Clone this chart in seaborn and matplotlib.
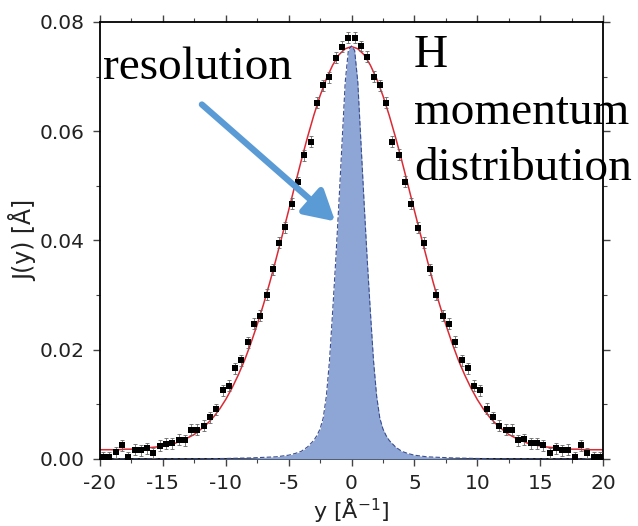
import matplotlib
matplotlib.use("Agg")
import matplotlib.pyplot as plt
import seaborn as sns
import pandas as pd
from matplotlib.ticker import MultipleLocator, FormatStrFormatter

# ---------------- data ----------------
y_data = [-19.75, -19.25, -18.75, -18.25, -17.75, -17.25, -16.75, -16.25, -15.75, -15.25,
          -14.75, -14.25, -13.75, -13.25, -12.75, -12.25, -11.75, -11.25, -10.75, -10.25,
          -9.75, -9.25, -8.75, -8.25, -7.75, -7.25, -6.75, -6.25, -5.75, -5.25,
          -4.75, -4.25, -3.75, -3.25, -2.75, -2.25, -1.75, -1.25, -0.75, -0.25,
          0.25, 0.75, 1.25, 1.75, 2.25, 2.75, 3.25, 3.75, 4.25, 4.75,
          5.25, 5.75, 6.25, 6.75, 7.25, 7.75, 8.25, 8.75, 9.25, 9.75,
          10.25, 10.75, 11.25, 11.75, 12.25, 12.75, 13.25, 13.75, 14.25, 14.75,
          15.25, 15.75, 16.25, 16.75, 17.25, 17.75, 18.25, 18.75, 19.25, 19.75]
J_data = [0.0003, 0.0003, 0.0012, 0.0025, 0.0003, 0.0017, 0.0016, 0.0020, 0.0011, 0.0024,
          0.0028, 0.0029, 0.0035, 0.0034, 0.0054, 0.0054, 0.0061, 0.0076, 0.0091, 0.0126,
          0.0134, 0.0166, 0.0181, 0.0214, 0.0248, 0.0262, 0.0301, 0.0347, 0.0396, 0.0424,
          0.0467, 0.0507, 0.0556, 0.0581, 0.0652, 0.0684, 0.0699, 0.0735, 0.0755, 0.0771,
          0.0771, 0.0756, 0.0736, 0.0700, 0.0684, 0.0652, 0.0581, 0.0557, 0.0508, 0.0467,
          0.0423, 0.0396, 0.0347, 0.0301, 0.0262, 0.0248, 0.0215, 0.0181, 0.0166, 0.0134,
          0.0126, 0.0092, 0.0076, 0.0061, 0.0054, 0.0054, 0.0034, 0.0036, 0.0029, 0.0029,
          0.0025, 0.0011, 0.0020, 0.0016, 0.0017, 0.0003, 0.0025, 0.0011, 0.0003, 0.0003]
J_err = 0.001

y_fit = [-20, -19.5, -19, -18.5, -18, -17.5, -17, -16.5, -16, -15.5, -15, -14.5, -14, -13.5,
         -13, -12.5, -12, -11.5, -11, -10.5, -10, -9.5, -9, -8.5, -8, -7.5, -7, -6.5, -6,
         -5.5, -5, -4.5, -4, -3.5, -3, -2.5, -2, -1.5, -1, -0.5, 0,
         0.5, 1, 1.5, 2, 2.5, 3, 3.5, 4, 4.5, 5, 5.5, 6, 6.5, 7, 7.5, 8, 8.5, 9, 9.5, 10,
         10.5, 11, 11.5, 12, 12.5, 13, 13.5, 14, 14.5, 15, 15.5, 16, 16.5, 17, 17.5, 18,
         18.5, 19, 19.5, 20]
J_fit = [0.0017, 0.0017, 0.0017, 0.0017, 0.0018, 0.0018, 0.0019, 0.0020, 0.0021, 0.0022,
         0.0024, 0.0026, 0.0029, 0.0034, 0.0039, 0.0045, 0.0054, 0.0064, 0.0076, 0.0091,
         0.0109, 0.0130, 0.0154, 0.0181, 0.0212, 0.0246, 0.0283, 0.0323, 0.0366, 0.0410,
         0.0455, 0.0501, 0.0546, 0.0589, 0.0629, 0.0665, 0.0696, 0.0721, 0.0740, 0.0751,
         0.0755,
         0.0751, 0.0740, 0.0721, 0.0696, 0.0665, 0.0629, 0.0589, 0.0546, 0.0501, 0.0455,
         0.0410, 0.0366, 0.0323, 0.0283, 0.0246, 0.0212, 0.0181, 0.0154, 0.0130, 0.0109,
         0.0091, 0.0076, 0.0064, 0.0054, 0.0045, 0.0039, 0.0034, 0.0029, 0.0026, 0.0024,
         0.0022, 0.0021, 0.0020, 0.0019, 0.0018, 0.0018, 0.0017, 0.0017, 0.0017, 0.0017]

y_res = [-20, -15, -12, -10, -8, -7, -6, -5, -4.5, -4, -3.5, -3, -2.75, -2.5, -2.25, -2,
         -1.75, -1.5, -1.25, -1, -0.75, -0.5, -0.25, 0, 0.25, 0.5, 0.75, 1, 1.25, 1.5,
         1.75, 2, 2.25, 2.5, 2.75, 3, 3.5, 4, 4.5, 5, 6, 7, 8, 10, 12, 15, 20]
J_res = [0.00002, 0.00003, 0.00005, 0.0001, 0.0002, 0.0003, 0.0004, 0.0007, 0.0010, 0.0014,
         0.0022, 0.0034, 0.0043, 0.0055, 0.0075, 0.0115, 0.0180, 0.0270, 0.0365, 0.0470,
         0.0580, 0.0690, 0.0748, 0.0756, 0.0748, 0.0690, 0.0580, 0.0470, 0.0365, 0.0270,
         0.0180, 0.0115, 0.0075, 0.0055, 0.0043, 0.0034, 0.0022, 0.0014, 0.0010, 0.0007,
         0.0004, 0.0003, 0.0002, 0.0001, 0.00005, 0.00003, 0.00002]

x_ticks = [-20, -15, -10, -5, 0, 5, 10, 15, 20]
y_ticks = [0.00, 0.02, 0.04, 0.06, 0.08]

# ---------------- figure ----------------
sns.set_theme(style="ticks")
plt.rcParams['font.family'] = ['DejaVu Sans']
plt.rcParams['axes.unicode_minus'] = False

fig = plt.figure(figsize=(6.38, 5.26), dpi=100)
ax = fig.add_axes([100 / 638, 67 / 526, 503 / 638, 437 / 526])

df_data = pd.DataFrame({"y": y_data, "J": J_data})
df_fit = pd.DataFrame({"y": y_fit, "J": J_fit})

# fit line
sns.lineplot(data=df_fit, x="y", y="J", color="#dc2a35", lw=1.1, ax=ax,
             estimator=None, sort=False, zorder=2)
# resolution
ax.fill_between(y_res, J_res, 0, color="#8ea6d6", lw=0, zorder=3)
ax.plot(y_res, J_res, color="#3a4d8f", lw=0.8, ls=(0, (4, 2)), zorder=3.5)
# data
ax.errorbar(y_data, J_data, yerr=J_err, fmt="none", ecolor="#666666",
            elinewidth=0.6, capsize=1.5, capthick=0.6, zorder=4)
sns.scatterplot(data=df_data, x="y", y="J", marker="s", s=20, color="black",
                edgecolor="black", linewidth=0, ax=ax, zorder=5)

ax.set_xlim(-20, 20)
ax.set_ylim(0, 0.08)
ax.set_xticks(x_ticks)
ax.set_yticks(y_ticks)
ax.xaxis.set_minor_locator(MultipleLocator(2.5))
ax.yaxis.set_minor_locator(MultipleLocator(0.01))
ax.yaxis.set_major_formatter(FormatStrFormatter("%.2f"))
ax.tick_params(which="both", direction="out", top=True, right=True,
               labelsize=14.5, labelcolor="#222222", color="#444444")
ax.tick_params(which="major", length=5, width=1)
ax.tick_params(which="minor", length=3, width=0.8)
ax.tick_params(axis="x", pad=6)
ax.tick_params(axis="y", pad=6)
for s in ax.spines.values():
    s.set_color("black")
    s.set_linewidth(1.3)

ax.set_xlabel("y [Å$^{-1}$]", fontsize=16, color="#222222", labelpad=2)
ax.set_ylabel("J(y) [Å]", fontsize=17, color="#222222", labelpad=2)

# arrow & annotations
ax.annotate("", xy=(-1.3, 0.0435), xytext=(-11.9, 0.0649),
            arrowprops=dict(arrowstyle="-|>,head_length=1.5,head_width=0.85",
                            color="#5b9bd5", lw=4.5, shrinkA=0, shrinkB=0),
            zorder=6)

serif = ["Liberation Serif", "DejaVu Serif"]
fig.text(103 / 638, 1 - 79 / 526, "resolution", fontsize=34, family=serif,
         ha="left", va="baseline", color="black")
fig.text(414 / 638, 1 - 67 / 526, "H", fontsize=34, family=serif,
         ha="left", va="baseline", color="black")
fig.text(414 / 638, 1 - 124 / 526, "momentum", fontsize=34, family=serif,
         ha="left", va="baseline", color="black")
fig.text(414 / 638, 1 - 180 / 526, "distribution", fontsize=34, family=serif,
         ha="left", va="baseline", color="black")

fig.savefig("out.png", dpi=100, facecolor="white")
